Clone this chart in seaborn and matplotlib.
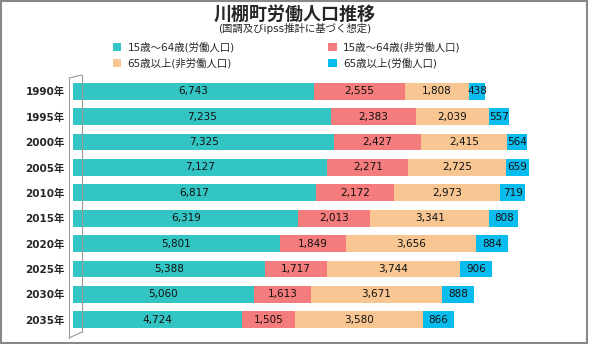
import matplotlib
matplotlib.use("Agg")
import matplotlib.pyplot as plt
import seaborn as sns
import pandas as pd
import numpy as np
from matplotlib.patches import Patch, Rectangle
from matplotlib.lines import Line2D

years = ["1990年", "1995年", "2000年", "2005年", "2010年",
         "2015年", "2020年", "2025年", "2030年", "2035年"]
work_15_64 = [6743, 7235, 7325, 7127, 6817, 6319, 5801, 5388, 5060, 4724]
nonwork_15_64 = [2555, 2383, 2427, 2271, 2172, 2013, 1849, 1717, 1613, 1505]
nonwork_65 = [1808, 2039, 2415, 2725, 2973, 3341, 3656, 3744, 3671, 3580]
work_65 = [438, 557, 564, 659, 719, 808, 884, 906, 888, 866]

series_names = ["15歳～64歳(労働人口)", "15歳～64歳(非労働人口)",
                "65歳以上(非労働人口)", "65歳以上(労働人口)"]
series_vals = [work_15_64, nonwork_15_64, nonwork_65, work_65]
colors = ["#33C5C3", "#F57C7C", "#F7C693", "#08BDEE"]

sns.set_theme(style="white")
plt.rcParams['font.family'] = ['DejaVu Sans', 'Noto Sans CJK JP']
CJK = ['Noto Sans CJK JP', 'DejaVu Sans']
MIX = ['DejaVu Sans', 'Noto Sans CJK JP']

fig = plt.figure(figsize=(5.89, 3.44), dpi=100)
ax = fig.add_axes([73 / 589, 9 / 344, 512 / 589, 259 / 344])

arr = np.array(series_vals, dtype=float)
cum = np.cumsum(arr, axis=0)

# draw cumulative bars, largest first so that each stacks visually
for i in reversed(range(len(series_names))):
    df = pd.DataFrame({"year": years, "value": cum[i]})
    sns.barplot(data=df, x="value", y="year", orient="h", color=colors[i],
                saturation=1, width=0.66, ax=ax, edgecolor="none")

# value labels at segment centres
for i in range(len(series_names)):
    starts = cum[i] - arr[i]
    for j, v in enumerate(arr[i]):
        ax.text(starts[j] + v / 2, j, f"{int(v):,}", ha="center", va="center",
                fontsize=7.5, color="#111111", family=MIX)

ax.set_xlim(0, 14350)
ax.set_ylim(9.6, -0.6)
ax.set_xlabel("")
ax.set_ylabel("")
ax.set_xticks([])
ax.tick_params(axis="y", length=0, pad=6, labelsize=7.5)
for lab in ax.get_yticklabels():
    lab.set_fontweight("bold")
    lab.set_family(MIX)
for s in ["top", "right", "bottom", "left"]:
    ax.spines[s].set_visible(False)

# simple 3D-style back wall lines
wall = dict(transform=fig.transFigure, color="#999999", lw=0.8)
fig.add_artist(Line2D([69 / 589, 69 / 589], [1 - 338 / 344, 1 - 78 / 344], **wall))
fig.add_artist(Line2D([82 / 589, 82 / 589], [1 - 332 / 344, 1 - 75 / 344], **wall))
fig.add_artist(Line2D([69 / 589, 82 / 589], [1 - 78 / 344, 1 - 75 / 344], **wall))
fig.add_artist(Line2D([69 / 589, 82 / 589], [1 - 338 / 344, 1 - 332 / 344], **wall))

fig.text(0.5, 1 - 14 / 344, "川棚町労働人口推移", ha="center", va="center",
         fontsize=13, fontweight="bold", family=CJK)
fig.text(0.5, 1 - 28 / 344, "(国調及びipss推計に基づく想定)", ha="center",
         va="center", fontsize=7.5, family=MIX)

handles = [Patch(facecolor=colors[k], edgecolor="none") for k in range(4)]
order = [0, 2, 1, 3]
fig.legend([handles[k] for k in order], [series_names[k] for k in order],
           loc="upper left", bbox_to_anchor=(113 / 589, 1 - 42 / 344),
           ncol=2, frameon=False, prop={"family": MIX, "size": 7.5},
           handlelength=0.8, handleheight=0.8, columnspacing=9.0,
           labelspacing=0.55, handletextpad=0.6, borderaxespad=0, borderpad=0)

fig.add_artist(Rectangle((0.002, 0.003), 0.995, 0.994, transform=fig.transFigure,
                         fill=False, edgecolor="#888888", lw=1.5))

fig.savefig("out.png", dpi=100)
